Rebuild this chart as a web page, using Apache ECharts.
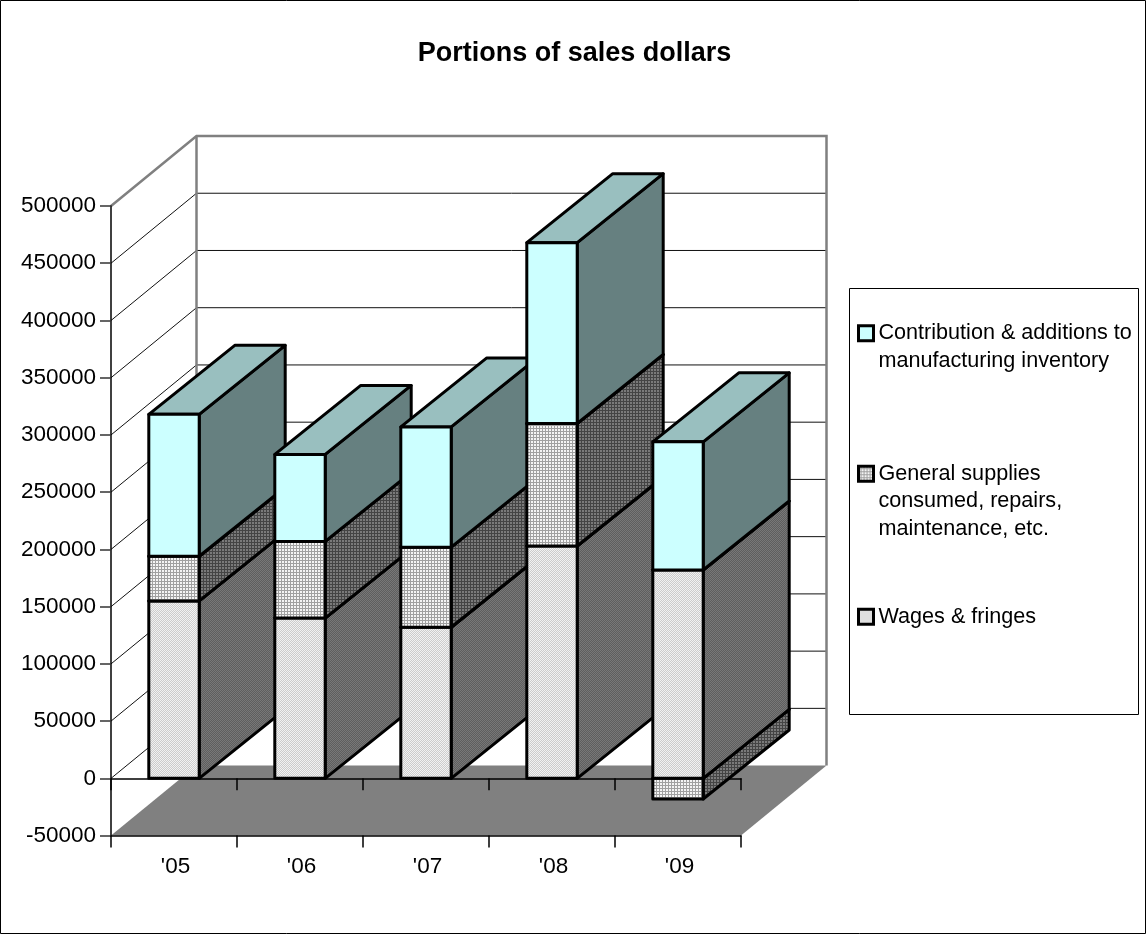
<!DOCTYPE html>
<html><head><meta charset="utf-8">
<style>html,body{margin:0;padding:0;background:#fff}#c{width:1146px;height:934px}</style>
<script src="https://cdn.jsdelivr.net/npm/echarts@6/dist/echarts.min.js"></script>
</head><body><div id="c"></div>
<script>
const categories = ["'05","'06","'07","'08","'09"];
const wages = [155000,140000,132000,203000,182000];
const general = [39000,67000,70000,107000,-18000];
const contribution = [124000,76000,105000,158000,112000];
const seriesNames = ['Wages & fringes','General supplies consumed, repairs, maintenance, etc.','Contribution & additions to manufacturing inventory'];
const legendLines = {
  'Wages & fringes':['Wages & fringes'],
  'General supplies consumed, repairs, maintenance, etc.':['General supplies','consumed, repairs,','maintenance, etc.'],
  'Contribution & additions to manufacturing inventory':['Contribution & additions to','manufacturing inventory']
};
const FONT='"Liberation Sans",Arial,sans-serif';
const BAND=0.4, BX=86, BY=-69, WX=85.5, WY=-70;

function tile(rows,pal){
  const c=document.createElement('canvas');c.width=rows[0].length;c.height=rows.length;
  const g=c.getContext('2d');
  rows.forEach((r,y)=>[...r].forEach((ch,x)=>{g.fillStyle=pal[ch];g.fillRect(x,y,1,1);}));
  return c;
}
const pat=(rows,pal)=>({image:tile(rows,pal),repeat:'repeat'});
const gridRows=['aab','aab','bbb'];
const dotRows=['ab','ba'];
const fills={
  w:{front:pat(dotRows,{a:'#f2f2f2',b:'#cccccc'}),top:pat(dotRows,{a:'#b6b6b6',b:'#9b9b9b'}),side:pat(dotRows,{a:'#787878',b:'#5e5e5e'})},
  g:{front:pat(gridRows,{a:'#f4f4f4',b:'#a0a0a0'}),top:pat(gridRows,{a:'#bfbfbf',b:'#787878'}),side:pat(gridRows,{a:'#7a7a7a',b:'#444444'})},
  c:{front:'#ccffff',top:'#99bfbf',side:'#668080'}
};
function stackStart(k,i){
  if(k===0) return 0;
  if(k===1) return general[i]<0?0:wages[i];
  return wages[i]+(general[i]>0?general[i]:0);
}
const stacks=[wages,general,contribution];
const keys=['w','g','c'];
function barRender(k){
  return function(params,api){
    const i=api.value(0), v0=api.value(1), v1=api.value(2);
    const p0=api.coord([i,v0]), p1=api.coord([i,v1]);
    const w=api.size([1,0])[0]*BAND;
    const l=p0[0]-w/2, r=p0[0]+w/2;
    const yLo=Math.max(p0[1],p1[1]), yHi=Math.min(p0[1],p1[1]);
    const f=fills[keys[k]];
    const st=(fill)=>({fill:fill,stroke:'#000',lineWidth:3,lineJoin:'round'});
    const z=10+i*10+(v1<v0?-1:k);
    return {type:'group',children:[
      {type:'polygon',z2:z,shape:{points:[[r,yLo],[r+BX,yLo+BY],[r+BX,yHi+BY],[r,yHi]]},style:st(f.side)},
      {type:'polygon',z2:z,shape:{points:[[l,yHi],[r,yHi],[r+BX,yHi+BY],[l+BX,yHi+BY]]},style:st(f.top)},
      {type:'rect',z2:z,shape:{x:l,y:yHi,width:r-l,height:yLo-yHi},style:st(f.front)}
    ]};
  };
}
const yTicks=[-50000,0,50000,100000,150000,200000,250000,300000,350000,400000,450000,500000];
function wallRender(params,api){
  const cs=params.coordSys, L=cs.x, R=cs.x+cs.width;
  const bottom=api.coord([0,yTicks[0]])[1], top=api.coord([0,yTicks[yTicks.length-1]])[1];
  const ch=[];
  ch.push({type:'polygon',shape:{points:[[L,bottom],[R,bottom],[R+WX,bottom+WY],[L+WX,bottom+WY]]},style:{fill:'#808080'}});
  yTicks.slice(1,-1).forEach(v=>{
    const y=api.coord([0,v])[1];
    ch.push({type:'polyline',shape:{points:[[L,y],[L+WX,y+WY],[R+WX,y+WY]]},style:{fill:null,stroke:'#111',lineWidth:1}});
  });
  ch.push({type:'polyline',shape:{points:[[L,top],[L+WX,top+WY],[R+WX,top+WY],[R+WX,bottom+WY]]},style:{fill:null,stroke:'#808080',lineWidth:2.5}});
  ch.push({type:'line',shape:{x1:L+WX,y1:top+WY,x2:L+WX,y2:bottom+WY},style:{stroke:'#808080',lineWidth:2.5}});
  return {type:'group',children:ch};
}
const legendTextStyle={fontFamily:FONT,fontSize:21.6,lineHeight:27.5,color:'#000'};
function legendFor(name,top){
  return {data:[name],orient:'vertical',left:857,top:top,padding:0,itemWidth:15,itemHeight:15,
    icon:'rect',textStyle:legendTextStyle,selectedMode:false,
    itemStyle:{borderColor:'#000',borderWidth:3},
    formatter:n=>{const l=legendLines[n];return new Array(l.length-1).fill(' ').concat(l).join('\n');}};
}
const chart=echarts.init(document.getElementById('c'),null,{renderer:'canvas'});
const mk=(k)=>({
  type:'custom',name:seriesNames[k],coordinateSystem:'cartesian2d',z:2,clip:false,
  encode:{x:0,y:[1,2]},
  itemStyle:{color:fills[keys[k]].front,borderColor:'#000',borderWidth:3},
  renderItem:barRender(k),
  data:categories.map((c,i)=>[i,stackStart(k,i),stackStart(k,i)+stacks[k][i]])
});
chart.setOption({
  animation:false,
  backgroundColor:'#fff',
  title:{text:'Portions of sales dollars',left:569.5,top:35,textAlign:'center',
    textStyle:{fontFamily:FONT,fontSize:27,fontWeight:'bold',color:'#000'}},
  graphic:[
    {type:'rect',z:-1,shape:{x:0.5,y:0.5,width:1145,height:933},style:{fill:'none',stroke:'#000',lineWidth:1}},
    {type:'rect',z:-1,shape:{x:849.5,y:288.5,width:289,height:426},style:{fill:'#fff',stroke:'#000',lineWidth:1}}
  ],
  legend:[legendFor(seriesNames[2],292),legendFor(seriesNames[1],405),legendFor(seriesNames[0],603)],
  grid:{left:111,right:405,top:206,height:629.6,containLabel:false},
  xAxis:[
    {type:'category',data:categories,z:1,position:'bottom',
     axisLine:{onZero:false,lineStyle:{color:'#000',width:1.5}},
     axisTick:{show:true,length:12,alignWithLabel:false,lineStyle:{color:'#000',width:1.5}},
     axisLabel:{margin:20,fontFamily:FONT,fontSize:22.5,color:'#000',padding:[0,0,0,3]},splitLine:{show:false}},
    {type:'category',data:categories,z:1,position:'bottom',
     axisLine:{onZero:true,lineStyle:{color:'#000',width:1.5}},
     axisTick:{show:true,length:12,lineStyle:{color:'#000',width:1.5}},
     axisLabel:{show:false},splitLine:{show:false}}
  ],
  yAxis:{type:'value',min:-50000,max:500000,interval:50000,z:1,
    axisLine:{show:true,lineStyle:{color:'#000',width:1.5}},
    axisTick:{show:true,length:11,lineStyle:{color:'#333',width:1.5}},
    axisLabel:{margin:15,fontFamily:FONT,fontSize:22.5,color:'#000',formatter:v=>String(v)},splitLine:{show:false}},
  series:[
    {type:'custom',coordinateSystem:'cartesian2d',z:0,clip:false,silent:true,renderItem:wallRender,data:[[0,0]]},
    mk(0),mk(1),mk(2)
  ]
});
</script></body></html>
